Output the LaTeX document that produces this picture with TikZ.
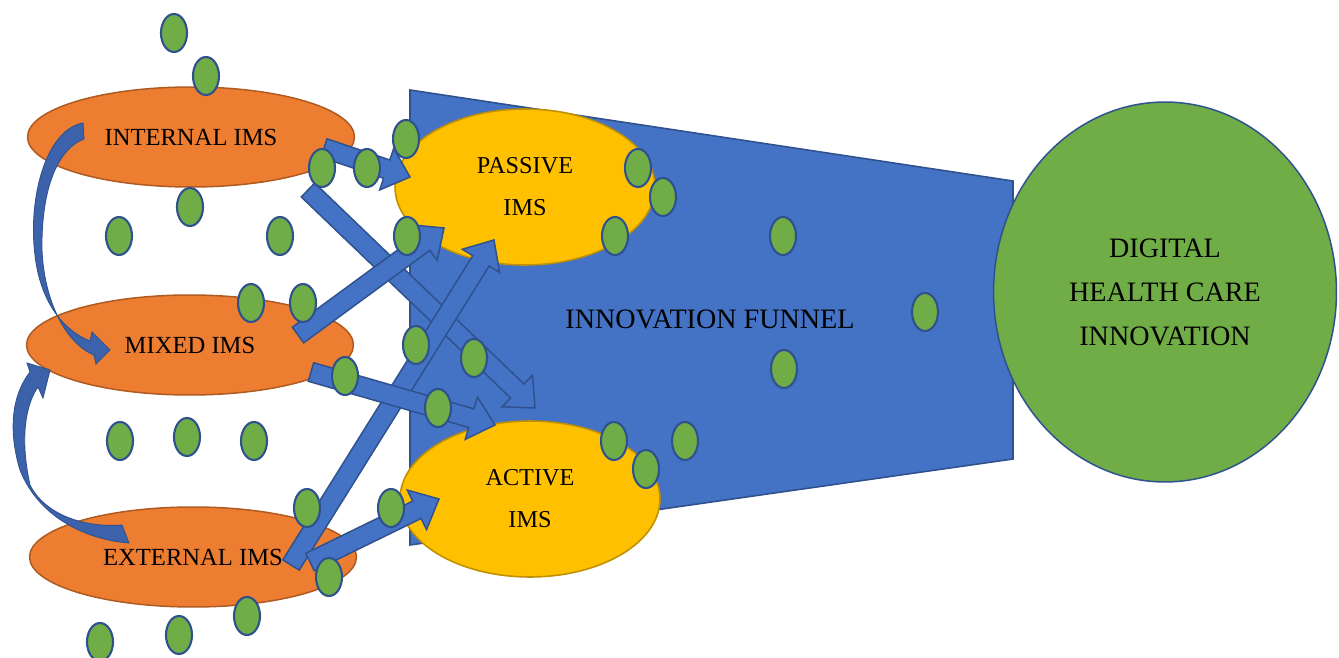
\documentclass[tikz,border=0pt]{standalone}
\usepackage{fontspec}
\setmainfont{Liberation Serif}
\usetikzlibrary{shapes,calc}

\definecolor{officeblue}{RGB}{68,114,196}
\definecolor{bluedge}{RGB}{47,82,143}
\definecolor{bendblue}{RGB}{60,98,172}
\definecolor{officeorange}{RGB}{237,125,49}
\definecolor{orangeedge}{RGB}{174,90,33}
\definecolor{officegold}{RGB}{255,192,0}
\definecolor{goldedge}{RGB}{191,144,0}
\definecolor{officegreen}{RGB}{112,173,71}

% block arrow sizes
\newcommand{\shaftw}{5.5pt}
\newcommand{\headw}{12.5pt}
\newcommand{\headlen}{14pt}
% straight block arrow from #1 to #2
\newcommand{\blockarrow}[2]{%
  \coordinate (neck) at ($(#2)!\headlen!(#1)$);
  \draw[flow] ($(#1)!\shaftw!90:(#2)$) -- ($(neck)!\shaftw!90:(#2)$)
    -- ($(neck)!\headw!90:(#2)$) -- (#2) -- ($(neck)!\headw!-90:(#2)$)
    -- ($(neck)!\shaftw!-90:(#2)$) -- ($(#1)!\shaftw!-90:(#2)$) -- cycle;
}

\begin{document}
\begin{tikzpicture}[
    x=0.02cm, y=-0.02cm,
    src/.style={ellipse, draw=orangeedge, fill=officeorange, line width=0.85pt, minimum width=6.54cm, minimum height=2cm, inner sep=0pt, font=\fontsize{14}{17}\selectfont},
    mode/.style={ellipse, draw=goldedge, fill=officegold, line width=0.9pt, minimum width=5.2cm, minimum height=3.12cm, inner sep=0pt, align=center, font=\fontsize{13.8}{24}\selectfont},
    goal/.style={ellipse, draw=bluedge, fill=officegreen, line width=0.85pt, minimum width=6.86cm, minimum height=7.6cm, inner sep=0pt, align=center, font=\fontsize{16}{25}\selectfont},
    dot/.style={ellipse, draw=bluedge, fill=officegreen, line width=1.2pt, minimum width=0.52cm, minimum height=0.76cm, inner sep=0pt},
    funnelbody/.style={draw=bluedge, fill=officeblue, line width=0.9pt},
    flow/.style={draw=bluedge, fill=officeblue, line width=0.85pt},
    curvedflow/.style={draw=bluedge, fill=bendblue, line width=0.5pt}
]
\useasboundingbox (0,0) rectangle (1339,658);

% Funnel
\draw[funnelbody] (410,90) -- (1013,181) -- (1013,459) -- (410,545) -- cycle;
\node[font=\fontsize{16}{18}\selectfont] (funnel) at (710,319) {INNOVATION FUNNEL};

% Outcome
\node[goal] (dhc) at (1165,292) {DIGITAL\\HEALTH CARE\\INNOVATION};

% IMS sources
\node[src] (internal) at (191,137) {INTERNAL IMS};
\node[src] (mixed) at (190,345) {MIXED IMS};
\node[src] (external) at (193,557) {EXTERNAL IMS};

% IMS modes
\node[mode] (passive) at (525,187) {PASSIVE\\IMS};
\node[mode] (active) at (530,499) {ACTIVE\\IMS};

% arrow ends
\coordinate (ip0) at (324,148);
\coordinate (ip1) at (410,177);
\coordinate (if0) at (308,190);
\coordinate (if1) at (535,408);
\coordinate (mp0) at (298,335);
\coordinate (mp1) at (444,228);
\coordinate (ep0) at (291,565);
\coordinate (ep1) at (494,240);
\coordinate (ma0) at (311,372);
\coordinate (ma1) at (495,425);
\coordinate (ea0) at (310,562);
\coordinate (ea1) at (439,499);

% Flows into the funnel
\blockarrow{if0}{if1}
\blockarrow{mp0}{mp1}
\blockarrow{ep0}{ep1}
\blockarrow{ma0}{ma1}
\blockarrow{ip0}{ip1}
\blockarrow{ea0}{ea1}

% internal -> mixed
\draw[curvedflow] (83,123) .. controls (45,130) and (28,200) .. (35,255)
  .. controls (40,300) and (62,330) .. (90,341) -- (92,332) -- (110,350) -- (96,364) -- (94,355)
  .. controls (65,343) and (44,300) .. (42,250)
  .. controls (41,195) and (55,150) .. (84,139) -- cycle;
% external -> mixed
\draw[curvedflow] (129,543) .. controls (90,540) and (40,520) .. (20,470)
  .. controls (8,430) and (12,395) .. (30,372) -- (27,363) -- (50,370) -- (43,398) -- (38,387)
  .. controls (25,405) and (20,440) .. (30,485)
  .. controls (45,515) and (85,528) .. (122,525) -- cycle;

% Dots
\foreach \px/\py [count=\i] in {174/33, 206/76, 406/139, 322/168, 367/168, 190/207,
    119/236, 280/236, 638/168, 663/197, 615/236, 407/236, 783/236, 251/303, 303/303,
    925/312, 416/345, 474/358, 784/369, 345/376, 438/408, 120/441, 187/437, 254/441,
    614/441, 685/441, 646/469, 307/508, 391/508, 329/577, 247/616, 100/642, 179/635}
  \node[dot] (dot\i) at (\px,\py) {};

\end{tikzpicture}
\end{document}
